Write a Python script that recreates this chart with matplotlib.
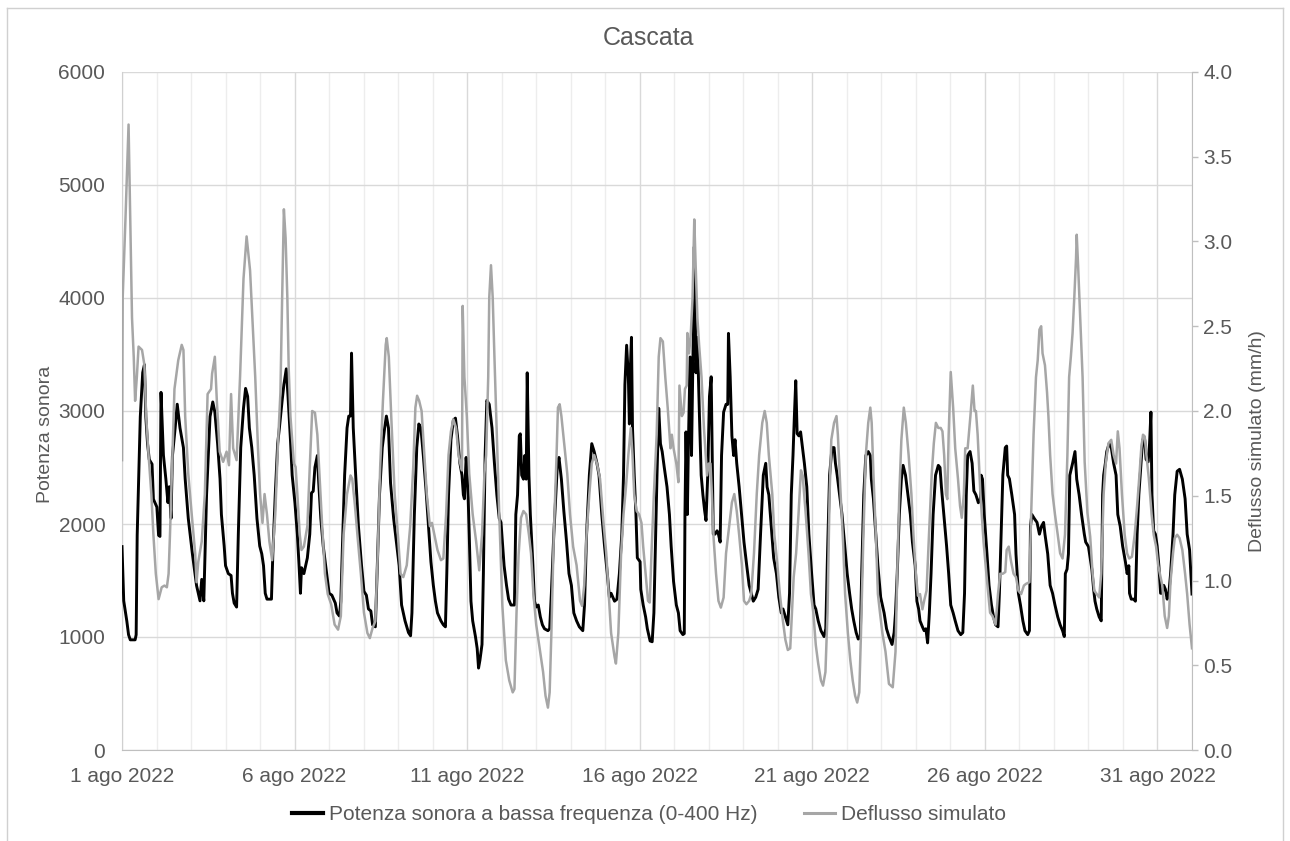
import matplotlib
matplotlib.use('Agg')
import matplotlib.pyplot as plt
from matplotlib.lines import Line2D

plt.rcParams['font.family'] = ['Liberation Sans', 'DejaVu Sans']

# ---------------- data ----------------
title = "Cascata"
y_left_label = "Potenza sonora"
y_right_label = "Deflusso simulato (mm/h)"
series_black_name = "Potenza sonora a bassa frequenza (0-400 Hz)"
series_gray_name = "Deflusso simulato"

x_tick_days = [0, 5, 10, 15, 20, 25, 30]
x_tick_labels = ["1 ago 2022", "6 ago 2022", "11 ago 2022", "16 ago 2022",
                 "21 ago 2022", "26 ago 2022", "31 ago 2022"]
left_ticks = [0, 1000, 2000, 3000, 4000, 5000, 6000]
right_ticks = [0.0, 0.5, 1.0, 1.5, 2.0, 2.5, 3.0, 3.5, 4.0]

# days since 1 Aug 2022 00:00, low-frequency sound power
power_t = [0.00, 0.05, 0.14, 0.19, 0.24, 0.38, 0.41, 0.44, 0.53, 0.60, 0.65, 0.69, 0.74, 0.79, 0.87, 0.91,
           1.01, 1.06, 1.10, 1.13, 1.20, 1.27, 1.33, 1.37, 1.42, 1.46, 1.54, 1.60, 1.68, 1.78, 1.83, 1.92,
           2.04, 2.16, 2.26, 2.31, 2.37, 2.45, 2.55, 2.63, 2.69, 2.77, 2.84, 2.88, 2.96,
           3.00, 3.08, 3.16, 3.20, 3.25, 3.32, 3.37, 3.44, 3.52, 3.58, 3.64, 3.69, 3.76, 3.83, 3.91, 3.99,
           4.05, 4.10, 4.15, 4.20, 4.33, 4.37, 4.44, 4.51, 4.56, 4.64, 4.69, 4.76, 4.81, 4.88, 4.93,
           5.01, 5.08, 5.13, 5.17, 5.20, 5.27, 5.37, 5.44, 5.49, 5.54, 5.59, 5.66, 5.70, 5.76, 5.83, 5.93,
           6.00, 6.08, 6.13, 6.18, 6.23, 6.30, 6.34, 6.39, 6.45, 6.52, 6.57, 6.62, 6.65, 6.70, 6.77, 6.85, 6.94,
           7.01, 7.08, 7.14, 7.21, 7.26, 7.34, 7.39, 7.46, 7.54, 7.61, 7.66, 7.72, 7.78, 7.87, 7.95,
           8.03, 8.10, 8.20, 8.30, 8.36, 8.40, 8.47, 8.54, 8.60, 8.66, 8.73, 8.81, 8.88, 8.95,
           9.02, 9.08, 9.14, 9.24, 9.31, 9.37, 9.41, 9.46, 9.53, 9.60, 9.66, 9.72, 9.79, 9.85, 9.89, 9.92, 9.97,
           10.01, 10.06, 10.11, 10.16, 10.24, 10.29, 10.33, 10.37, 10.43, 10.47, 10.52, 10.57, 10.64, 10.72,
           10.79, 10.86, 10.93, 10.98,
           11.07, 11.14, 11.20, 11.27, 11.37, 11.41, 11.46, 11.51, 11.54, 11.58, 11.63, 11.67, 11.71, 11.74,
           11.79, 11.83, 11.90, 11.95,
           12.00, 12.06, 12.12, 12.18, 12.24, 12.34, 12.39, 12.44, 12.51, 12.57, 12.61, 12.66, 12.73, 12.80,
           12.88, 12.95,
           13.02, 13.09, 13.17, 13.25, 13.35, 13.40, 13.46, 13.54, 13.61, 13.68, 13.76, 13.82, 13.90, 13.98,
           14.06, 14.12, 14.17, 14.22, 14.27, 14.34, 14.41, 14.48, 14.53, 14.57, 14.62, 14.67, 14.70, 14.72,
           14.76, 14.79, 14.84, 14.89, 14.93,
           15.01, 15.03, 15.10, 15.17, 15.22, 15.30, 15.36, 15.41, 15.46, 15.50, 15.55, 15.60, 15.65, 15.71,
           15.79, 15.86, 15.91, 15.98,
           16.06, 16.12, 16.17, 16.25, 16.29, 16.31, 16.34, 16.38, 16.41, 16.46, 16.50, 16.55, 16.58, 16.63,
           16.67, 16.73, 16.78, 16.83, 16.88, 16.92, 16.97,
           17.02, 17.07, 17.10, 17.13, 17.18, 17.24, 17.28, 17.33, 17.37, 17.43, 17.50, 17.55, 17.57, 17.62,
           17.67, 17.72, 17.76, 17.81, 17.88, 17.95,
           18.02, 18.10, 18.17, 18.23, 18.29, 18.36, 18.43, 18.50, 18.58, 18.65, 18.69, 18.74, 18.81, 18.88, 18.96,
           19.03, 19.10, 19.15, 19.22, 19.29, 19.34, 19.39, 19.44, 19.48, 19.52, 19.56, 19.61, 19.66, 19.70,
           19.77, 19.84, 19.90, 19.98,
           20.05, 20.10, 20.17, 20.25, 20.34, 20.39, 20.44, 20.50, 20.57, 20.63, 20.67, 20.72, 20.79, 20.86, 20.93,
           21.01, 21.08, 21.14, 21.20, 21.27, 21.33, 21.39, 21.43, 21.49, 21.55, 21.62, 21.68, 21.71, 21.77,
           21.84, 21.90, 21.98,
           22.03, 22.08, 22.15, 22.22, 22.31, 22.37, 22.41, 22.46, 22.52, 22.58, 22.63, 22.70, 22.77, 22.84,
           22.90, 22.98,
           23.03, 23.08, 23.12, 23.19, 23.24, 23.29, 23.34, 23.39, 23.44, 23.50, 23.57, 23.65, 23.70, 23.74,
           23.82, 23.89, 23.95,
           24.01, 24.08, 24.14, 24.22, 24.30, 24.36, 24.41, 24.46, 24.50, 24.57, 24.63, 24.68, 24.74, 24.81,
           24.87, 24.89, 24.93, 24.98,
           25.06, 25.12, 25.19, 25.25, 25.31, 25.38, 25.42, 25.47, 25.52, 25.59, 25.63, 25.66, 25.71, 25.78,
           25.86, 25.90, 25.97,
           26.03, 26.10, 26.16, 26.24, 26.29, 26.32, 26.36, 26.43, 26.51, 26.58, 26.64, 26.70, 26.74, 26.82,
           26.89, 26.96,
           27.03, 27.11, 27.18, 27.25, 27.30, 27.33, 27.38, 27.42, 27.46, 27.54, 27.61, 27.66, 27.73, 27.80,
           27.88, 27.92,
           28.00, 28.05, 28.10, 28.15, 28.19, 28.24, 28.31, 28.37, 28.41, 28.44, 28.49, 28.53, 28.60, 28.66,
           28.73, 28.80, 28.85, 28.92, 28.99,
           29.07, 29.12, 29.17, 29.19, 29.24, 29.31, 29.36, 29.41, 29.46, 29.50, 29.57, 29.63, 29.67, 29.73,
           29.77, 29.81, 29.84, 29.89, 29.94, 29.99,
           30.04, 30.09, 30.14, 30.18, 30.23, 30.28, 30.33, 30.38, 30.45, 30.50, 30.57, 30.64, 30.72, 30.80,
           30.86, 30.93, 31.00]
power_v = [1800, 1320, 1140, 1020, 975, 975, 1020, 1900, 2950, 3340, 3410, 2950, 2710, 2570, 2530, 2220,
           2150, 1900, 1890, 3165, 2610, 2400, 2190, 2330, 2050, 2600, 2850, 3060, 2850, 2675, 2400, 2050,
           1735, 1455, 1320, 1510, 1320, 2260, 2950, 3080, 2990, 2710, 2400, 2084, 1805,
           1631, 1561, 1544, 1387, 1300, 1265, 1910, 2676, 3024, 3200, 3129, 2850, 2676, 2432, 2049, 1805,
           1735, 1631, 1387, 1335, 1335, 1735, 2258, 2711, 2850, 3094, 3233, 3373, 3129, 2746, 2432,
           2188, 1910, 1631, 1387, 1613, 1561, 1700, 1910, 2275, 2290, 2502, 2606, 2363, 2049, 1805, 1561,
           1387, 1370, 1335, 1300, 1213, 1185, 1317, 1840, 2432, 2850, 2955, 2955, 3512, 2850, 2432, 1980, 1631,
           1404, 1370, 1248, 1230, 1108, 1090, 1561, 2258, 2676, 2850, 2955, 2850, 2363, 2049, 1840,
           1631, 1283, 1143, 1039, 1011, 1213, 2084, 2676, 2885, 2850, 2606, 2293, 1980, 1666,
           1457, 1317, 1213, 1143, 1108, 1090, 1561, 2258, 2746, 2920, 2937, 2780, 2537, 2432, 2258, 2223, 2589,
           2432, 1910, 1317, 1143, 1004, 899, 725, 795, 934, 1561, 2606, 3094, 3059, 2850,
           2537, 2258, 2049, 2014,
           1631, 1457, 1335, 1283, 1283, 2084, 2258, 2780, 2798, 2432, 2397, 2606, 2397, 3338,
           2432, 2084, 1666, 1317,
           1265, 1283, 1178, 1108, 1073, 1056, 1073, 1387, 1910, 2258, 2502, 2589, 2397, 2118,
           1840, 1561,
           1457, 1213, 1143, 1090, 1056, 1283, 1910, 2432, 2711, 2641, 2537, 2432, 2084, 1805,
           1561, 1352, 1387, 1352, 1317, 1335, 1561, 1910, 2432, 3233, 3582, 3303, 2885, 3303,
           3652, 2850, 2432, 2084, 1700,
           1666, 1422, 1283, 1178, 1073, 965, 958, 1213, 1910, 2432, 3024, 2711, 2641, 2502,
           2328, 2084, 1805, 1491,
           1283, 1213, 1056, 1021, 1030, 2084, 2815, 2084, 2711, 3478, 2606, 3652, 4453, 3338,
           3652, 2955, 2432, 2258, 2118, 2031, 2432,
           3129, 3303, 2606, 1910, 1910, 1940, 1910, 1840, 2606, 2990, 3059, 3059, 3687, 3303,
           2780, 2606, 2746, 2537, 2328, 2084,
           1840, 1631, 1457, 1387, 1317, 1352, 1422, 1910, 2432, 2537, 2328, 2258, 1980, 1700, 1561,
           1352, 1213, 1248, 1178, 1108, 1387, 2258, 2606, 2955, 3268, 2800, 2780, 2815, 2711,
           2537, 2328, 1910, 1561,
           1283, 1248, 1143, 1056, 1004, 1073, 1735, 2432, 2676, 2676, 2537, 2432, 2258, 2084, 1840,
           1561, 1387, 1248, 1143, 1039, 982, 1000, 1561, 2258, 2606, 2641, 2606, 2397, 2223,
           1910, 1631, 1352,
           1283, 1213, 1073, 1004, 934, 1040, 1213, 1561, 2084, 2397, 2519, 2432, 2258, 2084,
           1840, 1631,
           1317, 1248, 1143, 1090, 1056, 1073, 948, 1213, 1561, 2084, 2432, 2519, 2500, 2328,
           2049, 1805, 1561,
           1283, 1213, 1143, 1056, 1021, 1039, 1387, 2258, 2606, 2641, 2537, 2293, 2258, 2188,
           2223, 2432, 2397, 2084,
           1735, 1457, 1283, 1178, 1108, 1090, 1387, 1910, 2432, 2676, 2690, 2432, 2400, 2258,
           2084, 1735, 1387,
           1283, 1143, 1056, 1021, 1056, 1980, 2084, 2049, 2014, 1910, 1980, 2014, 1910, 1735,
           1457, 1387,
           1283, 1178, 1108, 1056, 1004, 1561, 1600, 1735, 2432, 2537, 2641, 2397, 2258, 2084,
           1910, 1840,
           1800, 1700, 1596, 1422, 1317, 1248, 1178, 1143, 2258, 2432, 2537, 2641, 2711, 2680,
           2537, 2432, 2084, 1980, 1805,
           1666, 1561, 1631, 1387, 1335, 1335, 1317, 1910, 2258, 2432, 2746, 2746, 2572, 2550,
           2711, 2990, 2258, 1940, 1910, 1805,
           1631, 1387, 1387, 1457, 1422, 1335, 1387, 1561, 1910, 2258, 2467, 2484, 2397, 2223,
           1910, 1770, 1380]

# days since 1 Aug 2022 00:00, simulated runoff (mm/h)
runoff_t = [0.00, 0.02, 0.10, 0.19, 0.24, 0.29, 0.34, 0.38, 0.43, 0.48, 0.58, 0.65, 0.70, 0.77, 0.85, 0.91, 0.98,
            1.06, 1.15, 1.23, 1.30, 1.35, 1.39, 1.46, 1.52, 1.63, 1.73, 1.78, 1.83, 1.92,
            2.02, 2.12, 2.16, 2.21, 2.31, 2.40, 2.48, 2.58, 2.61, 2.69, 2.75, 2.83, 2.93,
            3.03, 3.10, 3.16, 3.22, 3.32, 3.42, 3.52, 3.61, 3.71, 3.78, 3.86, 3.94,
            4.00, 4.07, 4.13, 4.20, 4.27, 4.35, 4.44, 4.52, 4.59, 4.64, 4.69, 4.74, 4.79, 4.83, 4.88, 4.98,
            5.03, 5.08, 5.15, 5.20, 5.27, 5.37, 5.44, 5.51, 5.59, 5.66, 5.74, 5.80, 5.88, 5.96,
            6.06, 6.16, 6.26, 6.34, 6.42, 6.52, 6.62, 6.67, 6.75, 6.82, 6.92,
            7.01, 7.11, 7.18, 7.26, 7.34, 7.41, 7.48, 7.56, 7.64, 7.67, 7.73, 7.80, 7.90,
            8.00, 8.07, 8.15, 8.25, 8.35, 8.44, 8.50, 8.55, 8.61, 8.68, 8.76, 8.83, 8.92, 8.98,
            9.05, 9.14, 9.24, 9.31, 9.39, 9.46, 9.53, 9.60, 9.68, 9.75, 9.80, 9.85, 9.87, 9.92, 9.99,
            10.06, 10.16, 10.26, 10.35, 10.43, 10.50, 10.55, 10.61, 10.64, 10.69, 10.74, 10.79, 10.86, 10.93,
            11.02, 11.12, 11.22, 11.32, 11.37, 11.43, 11.49, 11.56, 11.63, 11.71, 11.79, 11.85, 11.92,
            12.00, 12.10, 12.20, 12.27, 12.34, 12.39, 12.44, 12.51, 12.59, 12.63, 12.68, 12.73, 12.81, 12.90, 12.98,
            13.07, 13.17, 13.27, 13.33, 13.39, 13.46, 13.54, 13.61, 13.68, 13.76, 13.85, 13.95,
            14.03, 14.10, 14.17, 14.27, 14.31, 14.38, 14.46, 14.53, 14.60, 14.67, 14.74, 14.79, 14.84, 14.91, 14.98,
            15.05, 15.10, 15.17, 15.24, 15.29, 15.34, 15.41, 15.49, 15.55, 15.60, 15.67, 15.74, 15.81, 15.89,
            15.93, 15.98,
            16.06, 16.12, 16.15, 16.22, 16.27, 16.31, 16.36, 16.38, 16.43, 16.48, 16.53, 16.58, 16.62, 16.67,
            16.72, 16.79, 16.86, 16.95,
            17.00, 17.05, 17.09, 17.14, 17.21, 17.28, 17.35, 17.43, 17.50, 17.59, 17.67, 17.74, 17.81, 17.88, 17.96,
            18.02, 18.09, 18.17, 18.23, 18.31, 18.39, 18.46, 18.55, 18.62, 18.68, 18.74, 18.84, 18.90, 18.98,
            19.06, 19.13, 19.22, 19.29, 19.36, 19.41, 19.46, 19.53, 19.60, 19.67, 19.72, 19.81, 19.89, 19.96,
            20.03, 20.10, 20.17, 20.25, 20.31, 20.38, 20.44, 20.50, 20.55, 20.63, 20.70, 20.74, 20.82, 20.89, 20.95,
            21.03, 21.10, 21.17, 21.24, 21.30, 21.36, 21.41, 21.48, 21.55, 21.62, 21.68, 21.72, 21.77, 21.84,
            21.90, 21.96,
            22.03, 22.12, 22.22, 22.33, 22.41, 22.46, 22.52, 22.58, 22.65, 22.71, 22.79, 22.87, 22.93,
            23.00, 23.06, 23.12, 23.19, 23.25, 23.31, 23.38, 23.46, 23.52, 23.58, 23.65, 23.72, 23.77, 23.82,
            23.87, 23.91, 23.95,
            24.01, 24.08, 24.14, 24.22, 24.28, 24.33, 24.39, 24.43, 24.50, 24.58, 24.65, 24.70, 24.74, 24.79,
            24.87, 24.96,
            25.06, 25.15, 25.22, 25.31, 25.38, 25.44, 25.52, 25.59, 25.63, 25.69, 25.76, 25.83, 25.90, 25.97,
            26.05, 26.13, 26.19, 26.29, 26.34, 26.41, 26.48, 26.53, 26.58, 26.63, 26.67, 26.74, 26.80, 26.84,
            26.89, 26.96,
            27.03, 27.11, 27.18, 27.25, 27.32, 27.39, 27.44, 27.49, 27.54, 27.59, 27.64, 27.66, 27.70, 27.76,
            27.83, 27.89, 27.97,
            28.05, 28.12, 28.17, 28.24, 28.31, 28.37, 28.44, 28.50, 28.58, 28.66, 28.73, 28.80, 28.85, 28.90, 28.97,
            29.05, 29.12, 29.18, 29.26, 29.34, 29.41, 29.48, 29.53, 29.58, 29.63, 29.68, 29.75, 29.83, 29.89, 29.96,
            30.02, 30.09, 30.14, 30.21, 30.28, 30.33, 30.38, 30.45, 30.50, 30.57, 30.64, 30.72, 30.80, 30.86,
            30.93, 31.00]
runoff_v = [1.71, 2.67, 3.13, 3.69, 3.13, 2.55, 2.32, 2.06, 2.20, 2.38, 2.36, 2.27, 1.97, 1.74, 1.51, 1.27, 1.04,
            0.89, 0.96, 0.97, 0.96, 1.04, 1.27, 1.74, 2.13, 2.30, 2.39, 2.36, 1.97, 1.63,
            1.39, 1.16, 0.99, 1.11, 1.23, 1.51, 2.10, 2.13, 2.22, 2.32, 2.05, 1.76, 1.70,
            1.76, 1.68, 2.10, 1.78, 1.71, 2.20, 2.78, 3.03, 2.83, 2.53, 2.20, 1.78,
            1.51, 1.34, 1.51, 1.39, 1.23, 1.12, 1.39, 1.81, 2.11, 2.67, 3.19, 3.02, 2.67, 2.25, 1.97, 1.69,
            1.67, 1.51, 1.27, 1.18, 1.20, 1.32, 1.67, 2.00, 1.99, 1.86, 1.55, 1.32, 1.04, 0.92,
            0.86, 0.74, 0.71, 0.79, 1.27, 1.51, 1.62, 1.60, 1.44, 1.27, 1.04,
            0.81, 0.69, 0.66, 0.72, 0.76, 1.16, 1.67, 2.06, 2.39, 2.43, 2.32, 1.97, 1.51,
            1.25, 1.04, 1.02, 1.09, 1.32, 1.68, 2.02, 2.09, 2.06, 2.00, 1.74, 1.51, 1.32, 1.34,
            1.27, 1.18, 1.12, 1.13, 1.39, 1.74, 1.88, 1.95, 1.90, 1.74, 1.69, 1.65, 2.62, 2.20, 1.97,
            1.63, 1.39, 1.23, 1.06, 1.27, 1.63, 1.74, 2.20, 2.67, 2.86, 2.67, 2.32, 1.86, 1.39,
            0.85, 0.53, 0.41, 0.34, 0.36, 0.81, 1.15, 1.37, 1.41, 1.39, 1.27, 1.16, 0.92,
            0.74, 0.60, 0.46, 0.32, 0.25, 0.34, 0.69, 1.27, 1.74, 2.02, 2.04, 1.97, 1.81, 1.63, 1.39,
            1.20, 1.09, 0.88, 0.85, 0.97, 1.27, 1.51, 1.69, 1.74, 1.69, 1.60, 1.34,
            1.16, 0.92, 0.69, 0.55, 0.51, 0.69, 1.16, 1.39, 1.55, 1.74, 1.90, 1.74, 1.51, 1.41, 1.39,
            1.34, 1.20, 1.04, 0.88, 0.87, 1.16, 1.51, 1.86, 2.32, 2.43, 2.41, 2.20, 2.02, 1.78,
            1.86, 1.78,
            1.69, 1.58, 2.15, 1.97, 1.99, 2.13, 2.15, 2.46, 2.34, 2.46, 2.67, 3.13, 2.86, 2.55,
            2.39, 2.20, 1.90, 1.62,
            1.69, 1.69, 1.51, 1.25, 1.04, 0.88, 0.84, 0.90, 1.16, 1.32, 1.46, 1.51, 1.41, 1.27, 1.09,
            0.88, 0.86, 0.88, 0.92, 1.16, 1.51, 1.74, 1.93, 2.00, 1.93, 1.74, 1.51, 1.27, 1.11,
            0.92, 0.79, 0.65, 0.59, 0.60, 0.81, 1.02, 1.16, 1.39, 1.65, 1.62, 1.39, 1.16, 0.92,
            0.81, 0.62, 0.51, 0.41, 0.38, 0.46, 0.81, 1.51, 1.83, 1.93, 1.97, 1.86, 1.51, 1.23, 0.92,
            0.69, 0.53, 0.41, 0.32, 0.28, 0.34, 0.69, 1.27, 1.74, 1.93, 2.02, 1.93, 1.63, 1.27,
            0.92, 0.81,
            0.69, 0.58, 0.39, 0.37, 0.58, 1.04, 1.51, 1.83, 2.02, 1.93, 1.74, 1.51, 1.27,
            1.04, 0.91, 0.92, 0.83, 0.89, 0.94, 1.27, 1.63, 1.81, 1.93, 1.90, 1.90, 1.88, 1.74,
            1.51, 1.48, 1.86,
            2.23, 2.02, 1.78, 1.60, 1.44, 1.37, 1.51, 1.78, 1.78, 1.97, 2.15, 2.00, 2.00, 1.86,
            1.51, 1.23,
            1.00, 0.81, 0.79, 0.74, 0.92, 1.04, 1.04, 1.05, 1.18, 1.20, 1.11, 1.04, 1.02, 0.94,
            0.92, 0.97, 0.98, 0.99, 1.39, 1.86, 2.20, 2.30, 2.48, 2.50, 2.34, 2.27, 2.11, 1.97,
            1.74, 1.51,
            1.39, 1.27, 1.16, 1.13, 1.27, 1.74, 2.20, 2.32, 2.46, 2.67, 2.90, 3.04, 2.86, 2.55,
            2.20, 1.70, 1.40,
            1.26, 1.04, 0.94, 0.92, 0.90, 1.04, 1.51, 1.69, 1.81, 1.83, 1.74, 1.69, 1.88, 1.78, 1.51,
            1.27, 1.16, 1.13, 1.14, 1.27, 1.44, 1.63, 1.78, 1.86, 1.85, 1.74, 1.60, 1.39, 1.27, 1.20,
            1.09, 1.02, 0.97, 0.79, 0.72, 0.79, 1.00, 1.16, 1.25, 1.27, 1.25, 1.18, 1.04, 0.92,
            0.74, 0.60]

# ---------------- styling ----------------
TXT = '#595959'
W, H = 1290, 841
fig = plt.figure(figsize=(W / 100, H / 100), dpi=100)
fig.patch.set_facecolor('white')

L, R, T, B = 122, 1192, 72, 750
ax = fig.add_axes([L / W, 1 - B / H, (R - L) / W, (B - T) / H])
ax2 = ax.twinx()

ax.set_xlim(0, 31)
ax.set_ylim(0, 6000)
ax2.set_ylim(0, 4.0)

ax.set_xticks(x_tick_days)
ax.set_xticklabels(x_tick_labels)
ax.set_xticks(list(range(0, 32)), minor=True)
ax.set_yticks(left_ticks)
ax.set_yticklabels([str(v) for v in left_ticks])
ax2.set_yticks(right_ticks)
ax2.set_yticklabels([f"{v:.1f}" for v in right_ticks])

ax.grid(True, axis='x', which='minor', color='#EDEDED', lw=1.0)
ax.grid(True, axis='x', which='major', color='#D9D9D9', lw=1.0)
ax.grid(True, axis='y', which='major', color='#D9D9D9', lw=1.0)
ax.set_axisbelow(True)

ax.tick_params(axis='x', which='both', length=0, pad=12, labelsize=15, labelcolor=TXT)
ax.tick_params(axis='y', which='both', length=0, pad=12, labelsize=15, labelcolor=TXT)
ax2.tick_params(axis='y', length=4, width=1, color='#BFBFBF', direction='out', pad=4,
                labelsize=15, labelcolor=TXT)

for a in (ax, ax2):
    a.spines['top'].set_visible(False)
ax.spines['left'].set_color('#D0D0D0')
ax.spines['bottom'].set_color('#BFBFBF')
ax.spines['right'].set_visible(False)
ax2.spines['left'].set_visible(False)
ax2.spines['bottom'].set_visible(False)
ax2.spines['right'].set_color('#BFBFBF')

ax.plot(power_t, power_v, color='black', lw=2.1, solid_joinstyle='round', zorder=3)
ax2.plot(runoff_t, runoff_v, color='#A6A6A6', lw=1.8, solid_joinstyle='round', zorder=3)

ax.set_ylabel(y_left_label, fontsize=14, color=TXT)
ax.yaxis.set_label_coords(-0.064, 0.465)
ax2.set_ylabel(y_right_label, fontsize=14, color=TXT, rotation=90)
ax2.yaxis.set_label_coords(1.053, 0.455)

fig.text(0.503, 1 - 38 / H, title, ha='center', va='center', fontsize=18, color=TXT)

handles = [Line2D([], [], color='black', lw=3.0),
           Line2D([], [], color='#A6A6A6', lw=2.2)]
fig.legend(handles, [series_black_name, series_gray_name], loc='center',
           bbox_to_anchor=(0.503, 1 - 815 / H), ncol=2, frameon=False, fontsize=15,
           handlelength=1.5, handletextpad=0.3, columnspacing=2.2, labelcolor=TXT)

# chart-area border
fig.add_artist(plt.Line2D([7 / W, 7 / W], [0, 1 - 8 / H], transform=fig.transFigure,
                          color='#D0D0D0', lw=1))
fig.add_artist(plt.Line2D([7 / W, 1283 / W], [1 - 8 / H, 1 - 8 / H], transform=fig.transFigure,
                          color='#D0D0D0', lw=1))
fig.add_artist(plt.Line2D([1283 / W, 1283 / W], [0, 1 - 8 / H], transform=fig.transFigure,
                          color='#D0D0D0', lw=1))

fig.savefig('out.png', dpi=100, facecolor='white')
